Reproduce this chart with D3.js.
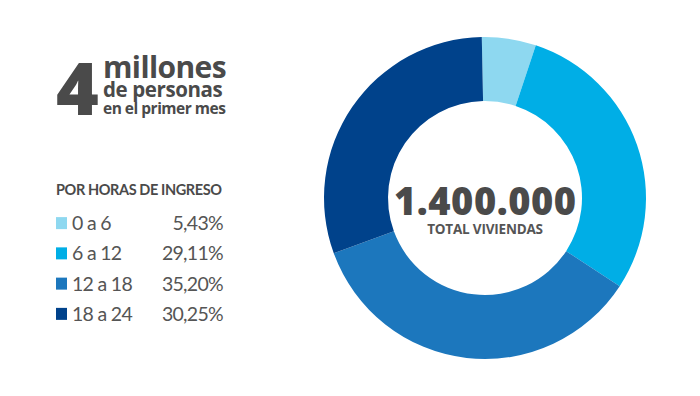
<!DOCTYPE html>
<html>
<head>
<meta charset="utf-8">
<script src="https://cdn.jsdelivr.net/npm/d3@7"></script>
<style>
  body { margin: 0; background: #fff; }
  svg { display: block; }
</style>
</head>
<body>
<svg id="chart" width="700" height="396"></svg>
<script>
// datos
var categorias = ["0 a 6", "6 a 12", "12 a 18", "18 a 24"];
var porcentajes = [5.43, 29.11, 35.20, 30.25];
var etiquetas = ["5,43%", "29,11%", "35,20%", "30,25%"];
var colores = ["#8ed8f0", "#00aee6", "#1c77bd", "#00428b"];

var titulo = { numero: "4", lineas: ["millones", "de personas", "en el primer mes"] };
var total = "1.400.000";
var totalLabel = "TOTAL VIVIENDAS";
var leyendaTitulo = "POR HORAS DE INGRESO";

var gris = "#4a4a4a";
var svg = d3.select("#chart");

// titulo
var t = svg.append("g");
t.append("text")
    .attr("x", 56).attr("y", 115)
    .attr("font-family", "Open Sans")
    .attr("font-weight", 800)
    .attr("font-size", 73)
    .attr("fill", gris)
    .text(titulo.numero);
var tamanos = [30, 20.5, 15.5];
var ys = [78, 97, 114];
var espacios = [-0.6, -0.4, -0.5];
titulo.lineas.forEach(function(l, i){
    t.append("text")
        .attr("x", 103).attr("y", ys[i])
        .attr("font-family", "Open Sans")
        .attr("font-weight", 700)
        .attr("font-size", tamanos[i])
        .attr("letter-spacing", espacios[i])
        .attr("fill", gris)
        .text(l);
});

// leyenda
svg.append("text")
    .attr("x", 56).attr("y", 195)
    .attr("font-family", "Lato")
    .attr("font-weight", 700)
    .attr("font-size", 14.5)
    .attr("textLength", 166)
    .attr("lengthAdjust", "spacing")
    .attr("fill", gris)
    .text(leyendaTitulo);

var y = d3.scaleBand()
    .domain(categorias)
    .range([208, 329])
    .padding(0);

var color = d3.scaleOrdinal().domain(categorias).range(colores);

var filas = svg.append("g").selectAll("g")
    .data(categorias)
    .join("g")
    .attr("transform", d => `translate(0, ${y(d) + y.bandwidth()/2})`);

filas.append("rect")
    .attr("x", 56).attr("y", -6)
    .attr("width", 11).attr("height", 12)
    .attr("fill", d => color(d));

filas.append("text")
    .attr("x", 72).attr("y", 7)
    .attr("font-family", "Lato")
    .attr("font-size", 19.5)
    .attr("letter-spacing", -0.7)
    .attr("fill", "#555")
    .text(d => d);

filas.append("text")
    .attr("x", 223).attr("y", 7)
    .attr("text-anchor", "end")
    .attr("font-family", "Lato")
    .attr("font-size", 19.5)
    .attr("letter-spacing", -0.7)
    .attr("fill", "#555")
    .text((d, i) => etiquetas[i]);

// dona
var cx = 485, cy = 198;
var pie = d3.pie().sort(null)
    .startAngle(-0.02)
    .endAngle(2 * Math.PI - 0.02);
var arc = d3.arc().innerRadius(97).outerRadius(161);

var dona = svg.append("g")
    .attr("transform", `translate(${cx}, ${cy})`);

dona.selectAll("path")
    .data(pie(porcentajes))
    .join("path")
    .attr("d", arc)
    .attr("fill", (d, i) => colores[i]);

dona.append("text")
    .attr("x", 0).attr("y", 17)
    .attr("text-anchor", "middle")
    .attr("font-family", "Open Sans")
    .attr("font-weight", 800)
    .attr("font-size", 38)
    .attr("textLength", 182)
    .attr("lengthAdjust", "spacing")
    .attr("fill", gris)
    .text(total);

dona.append("text")
    .attr("x", 0).attr("y", 36)
    .attr("text-anchor", "middle")
    .attr("font-family", "Open Sans")
    .attr("font-weight", 700)
    .attr("font-size", 13.5)
    .attr("letter-spacing", -0.2)
    .attr("fill", "#555")
    .text(totalLabel);
</script>
</body>
</html>
